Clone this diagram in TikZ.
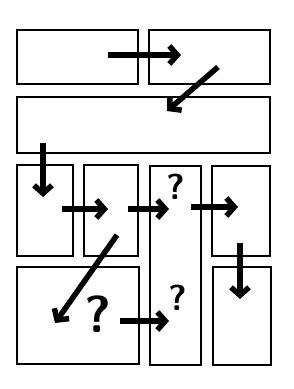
\documentclass[tikz,border=0pt]{standalone}
\usepackage{tikz}
\usetikzlibrary{arrows.meta,positioning,calc}
\tikzset{
    box/.style = {draw, line width=1.8pt, rectangle, inner sep=0pt, anchor=north west},
    arr/.style = {line width=5.5pt, -{Straight Barb[length=8pt, width=18pt]}},
    qmark/.style = {font=\sffamily\bfseries\fontsize{36}{36}\selectfont, inner sep=0pt},
}

\begin{document}
\begin{tikzpicture}[x=1pt, y=-1pt]
    \useasboundingbox (0,0) rectangle (294,389);
    % Top row
    \node[box, minimum width=121pt, minimum height=54pt] (A) at (16,29) {};
    \node[box, minimum width=121pt, minimum height=54pt] (B) at (148,29) {};
    % Wide strip
    \node[box, minimum width=253pt, minimum height=56pt] (W) at (16,96) {};
    % Middle row
    \node[box, minimum width=56pt, minimum height=91pt] (C) at (16,164) {};
    \node[box, minimum width=54pt, minimum height=91pt] (D) at (83,164) {};
    \node[box, minimum width=51pt, minimum height=199pt] (E) at (149,165) {};
    \node[box, minimum width=58pt, minimum height=90pt] (F) at (211,165) {};
    % Bottom row
    \node[box, minimum width=122pt, minimum height=97pt] (G) at (16,266) {};
    \node[box, minimum width=58pt, minimum height=98pt] (H) at (212,266) {};

    % Question marks
    \node[qmark] (q1) at (176,187) {?};
    \node[qmark, font=\sffamily\bfseries\fontsize{52}{52}\selectfont] (q2) at (98,314) {?};
    \node[qmark] (q3) at (178,298) {?};

    % Arrow ends
    \coordinate (a1) at (108,55);   \coordinate (b1) at (181,55);
    \coordinate (a2) at (218,67);   \coordinate (b2) at (167,111);
    \coordinate (a3) at (43,143);   \coordinate (b3) at (43,197);
    \coordinate (a4) at (62,209);   \coordinate (b4) at (108,209);
    \coordinate (a5) at (128,209);  \coordinate (b5) at (169,209);
    \coordinate (a6) at (191,207);  \coordinate (b6) at (238,207);
    \coordinate (a7) at (240,243);  \coordinate (b7) at (240,299);
    \coordinate (a8) at (117,235);  \coordinate (b8) at (55,323);
    \coordinate (a9) at (120,321);  \coordinate (b9) at (169,321);

    % Arrows
    \draw[arr] (a1) -- (b1);
    \draw[arr] (a2) -- (b2);
    \draw[arr] (a3) -- (b3);
    \draw[arr] (a4) -- (b4);
    \draw[arr] (a5) -- (b5);
    \draw[arr] (a6) -- (b6);
    \draw[arr] (a7) -- (b7);
    \draw[arr] (a8) -- (b8);
    \draw[arr] (a9) -- (b9);
\end{tikzpicture}
\end{document}
